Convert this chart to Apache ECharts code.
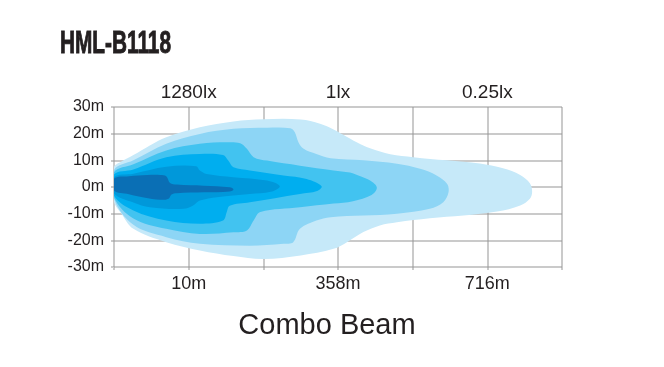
<!DOCTYPE html>
<html>
<head>
<meta charset="utf-8">
<script src="https://cdn.jsdelivr.net/npm/echarts@6/dist/echarts.min.js"></script>
<style>
  html, body { margin: 0; padding: 0; background: #ffffff; }
  #chart { width: 664px; height: 367px; }
</style>
</head>
<body>
<div id="chart"></div>
<script>
// ---- Data (x in grid columns 0..6, y in metres) ----
const chartTitle = 'HML-B1118';
const beamName = 'Combo Beam';
const bottomLabels = ['', '10m', '', '358m', '', '716m', ''];
const topLabels = ['', '1280lx', '', '1lx', '', '0.25lx', ''];
const yMin = -30, yMax = 30, yStep = 10;
const xMin = 0, xMax = 6, xStep = 1;

// Iso-lux contours, outermost (lowest lux) first
const layer1 = [[0,7.4],[0.1,9.6],[0.26,12.0],[0.48,15.6],[0.7,18.7],[1.15,22.4],[1.6,24.6],[2.0,25.4],[2.5,25.3],[2.76,23.7],[2.94,21.6],[3.07,19.6],[3.25,16.8],[3.43,14.5],[3.7,12.3],[4.01,11.2],[4.46,10.0],[4.9,8.8],[5.21,7.0],[5.44,4.5],[5.57,1.4],[5.6,-1.8],[5.57,-4.4],[5.44,-6.9],[5.13,-9.2],[4.68,-10.7],[4.23,-11.7],[3.79,-13.2],[3.56,-14.4],[3.34,-16.9],[3.12,-20.7],[2.94,-23.2],[2.5,-25.7],[2.0,-27.0],[1.6,-25.9],[1.15,-23.8],[0.7,-20.7],[0.26,-15.7],[0.1,-10.0],[0,-5.3]];
const layer2 = [[0,6.4],[0.26,10.0],[0.7,16.2],[1.15,19.9],[1.6,21.8],[2.05,22.2],[2.36,22.0],[2.42,20.6],[2.47,16.8],[2.54,14.3],[2.71,12.4],[2.9,10.8],[3.34,10.0],[3.79,8.7],[4.1,6.8],[4.32,4.3],[4.46,1.2],[4.48,-2.0],[4.41,-5.7],[4.23,-8.2],[3.79,-10.0],[3.34,-10.7],[2.9,-11.3],[2.71,-12.6],[2.49,-15.7],[2.4,-20.7],[2.27,-21.3],[1.82,-22.0],[1.15,-21.3],[0.7,-18.8],[0.26,-14.2],[0,-4.4]];
const layer3 = [[0,5.5],[0.26,8.5],[0.7,13.7],[1.15,16.2],[1.51,16.8],[1.69,16.4],[1.78,14.3],[1.87,11.2],[2.05,9.9],[2.49,8.0],[2.94,6.2],[3.16,5.4],[3.3,4.0],[3.43,2.4],[3.52,-0.2],[3.45,-3.0],[3.2,-5.3],[2.94,-6.2],[2.49,-7.6],[1.96,-9.4],[1.87,-12.6],[1.78,-16.3],[1.6,-17.0],[1.15,-17.6],[0.7,-15.7],[0.26,-11.8],[0,-3.8]];
const layer4 = [[0,4.7],[0.26,6.6],[0.7,11.2],[1.15,12.4],[1.46,12.0],[1.53,9.9],[1.6,7.4],[1.82,6.2],[2.27,4.3],[2.58,3.0],[2.78,0.3],[2.72,-1.5],[2.49,-2.6],[1.82,-5.7],[1.55,-7.0],[1.51,-9.4],[1.46,-12.6],[1.15,-13.8],[0.7,-12.6],[0.26,-8.8],[0,-3.2]];
const layer5 = [[0,3.7],[0.26,5.0],[0.7,7.6],[1.1,7.8],[1.15,6.2],[1.24,4.9],[1.6,3.7],[2.05,2.4],[2.22,0.3],[2.1,-1.8],[1.82,-2.6],[1.38,-3.8],[1.15,-5.1],[1.06,-6.9],[0.93,-8.2],[0.48,-7.6],[0.26,-5.8],[0,-2.3]];
const layer6 = [[0,3.1],[0.2,4.0],[0.45,4.5],[0.62,4.5],[0.7,4.0],[0.75,1.5],[0.84,0.9],[1.2,0.5],[1.55,-0.1],[1.6,-0.9],[1.55,-1.7],[1.2,-2.0],[0.84,-2.3],[0.77,-2.8],[0.73,-4.4],[0.62,-4.8],[0.4,-3.9],[0.2,-2.7],[0,-1.3]];

const layers = [layer1, layer2, layer3, layer4, layer5, layer6];
const layerColors = ['#c6e9f9', '#8dd5f5', '#42c3f0', '#00aeef', '#0098da', '#0a6fb5'];

// ---- Chart ----
const chart = echarts.init(document.getElementById('chart'), null, { renderer: 'canvas' });
const textColor = '#231f20';
const gridColor = 'rgba(150,150,150,0.5)';
const fontFam = '"Liberation Sans", Arial, sans-serif';

function layerSeries(points, color, idx) {
  return {
    type: 'custom',
    coordinateSystem: 'cartesian2d',
    xAxisIndex: 0,
    yAxisIndex: 0,
    silent: true,
    animation: false,
    clip: true,
    z: 3 + idx,
    dimensions: ['x', 'y'],
    encode: { x: 0, y: 1 },
    data: points,
    renderItem: function (params, api) {
      if (params.dataIndex !== 0) return null;
      const pts = points.map(function (p) { return api.coord(p); });
      return {
        type: 'polygon',
        shape: { points: pts, smooth: 0.35 },
        style: { fill: color, stroke: null }
      };
    }
  };
}

const option = {
  backgroundColor: '#ffffff',
  animation: false,
  grid: { left: 114, right: 102, top: 107, bottom: 100, containLabel: false },
  xAxis: [
    {
      type: 'value', position: 'bottom', min: xMin, max: xMax, interval: xStep,
      axisLine: { show: false, onZero: false },
      axisTick: { show: true, length: 3, lineStyle: { color: gridColor, width: 2 } },
      splitLine: { show: true, lineStyle: { color: gridColor, width: 2 } },
      axisLabel: {
        margin: 8, color: textColor, fontSize: 18, fontFamily: fontFam,
        formatter: function (v) { return bottomLabels[Math.round(v)] || ''; }
      }
    },
    {
      type: 'value', position: 'top', min: xMin, max: xMax, interval: xStep,
      axisLine: { show: false, onZero: false },
      axisTick: { show: false },
      splitLine: { show: false },
      axisLabel: {
        margin: 5, color: textColor, fontSize: 19, fontFamily: fontFam,
        formatter: function (v) { return topLabels[Math.round(v)] || ''; }
      }
    }
  ],
  yAxis: {
    type: 'value', min: yMin, max: yMax, interval: yStep,
    axisLine: { show: false, onZero: false },
    axisTick: { show: true, length: 3, lineStyle: { color: gridColor, width: 2 } },
    splitLine: { show: true, lineStyle: { color: gridColor, width: 2 } },
    axisLabel: {
      margin: 10, color: textColor, fontSize: 16, fontFamily: fontFam,
      formatter: function (v) { return v + 'm'; }
    }
  },
  graphic: [
    {
      type: 'text', x: 60, y: 44, scaleX: 0.8, scaleY: 1.2, z: 20,
      style: {
        text: chartTitle, fill: textColor, stroke: textColor, lineWidth: 0.8,
        align: 'left', verticalAlign: 'middle',
        font: 'bold 26px "Liberation Sans", Arial, sans-serif'
      }
    },
    {
      type: 'text', x: 327, y: 326, z: 20,
      style: {
        text: beamName, fill: textColor, align: 'center', verticalAlign: 'middle',
        font: '29px "Liberation Sans", Arial, sans-serif'
      }
    }
  ],
  series: layers.map(function (l, i) { return layerSeries(l, layerColors[i], i); })
};

chart.setOption(option);
</script>
</body>
</html>
